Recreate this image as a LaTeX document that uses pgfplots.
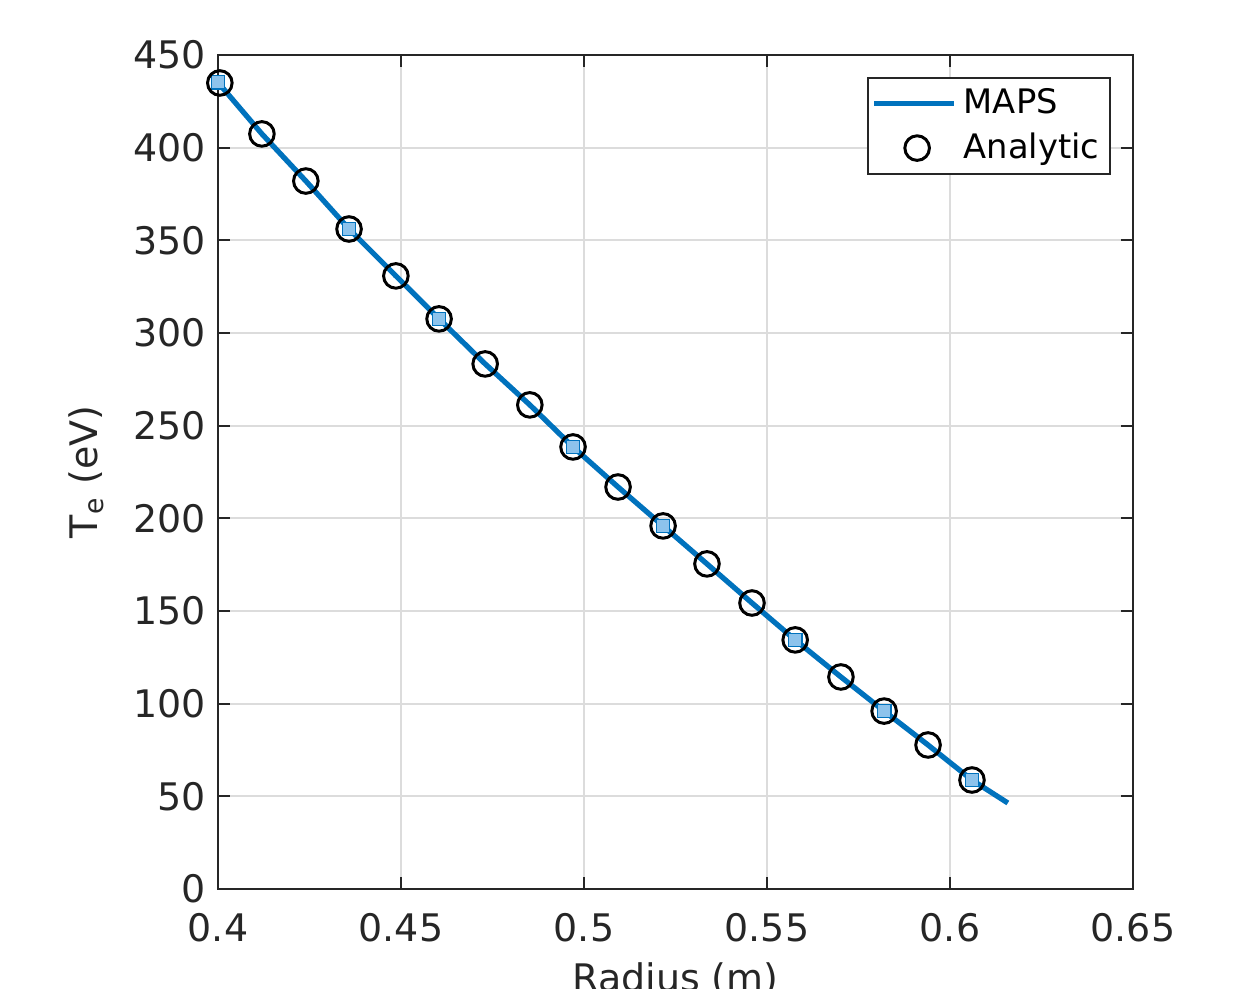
\documentclass[border=0pt]{standalone}
\usepackage{fontspec}
\setmainfont{DejaVu Sans}
\usepackage{pgfplots}
\pgfplotsset{compat=1.18}
\definecolor{mblue}{HTML}{0072BD}
\definecolor{sqfill}{HTML}{8DC3EC}
\definecolor{axgray}{HTML}{262626}
\definecolor{gridgray}{HTML}{DCDCDC}
\pgfplotsset{
  longline/.style={legend image code/.code={\draw[##1] (0cm,0cm) -- (0.8cm,0cm);}},
  midmark/.style={legend image code/.code={\draw[##1] plot coordinates {(0.43cm,0cm)};}},
}

\begin{document}
\begin{tikzpicture}
\begin{axis}[
  name=ax,
  scale only axis,
  width=9.15cm,height=8.34cm,
  xmin=0.4,xmax=0.65,ymin=0,ymax=450,
  xtick={0.4,0.45,0.5,0.55,0.6,0.65},
  ytick={0,50,...,450},
  xticklabels={0.4,0.45,0.5,0.55,0.6,0.65},
  /pgf/number format/assume math mode=true,
  grid=major,major grid style={gridgray,line width=0.5pt},
  tick align=inside,major tick length=0.12cm,
  axis line style={axgray,line width=0.6pt},
  tick style={axgray,line width=0.6pt},
  tick label style={font=\fontsize{10.8}{13}\selectfont,text=axgray},
  xticklabel style={yshift=-0.12cm},
  label style={font=\fontsize{10.8}{13}\selectfont,text=axgray},
  xlabel={Radius (m)},
  ylabel={T\textsubscript{e} (eV)},
  xlabel style={yshift=0.04cm},
  ylabel style={yshift=0.05cm},
  legend style={font=\fontsize{9.6}{11.5}\selectfont,at={(0.976,0.974)},anchor=north east,
    draw=axgray,line width=0.6pt,inner sep=1pt,row sep=0pt,
    nodes={inner xsep=2pt,inner ysep=2pt}},
  legend cell align=left,
]
\addplot[mblue,line width=1.5pt,longline] coordinates {
  (0.4000,435.2) (0.4120,407.4) (0.4240,382.0) (0.4358,356.1) (0.4486,330.8)
  (0.4604,307.6) (0.4730,283.3) (0.4852,261.2) (0.4970,238.5) (0.5093,216.9)
  (0.5216,195.9) (0.5336,175.4) (0.5459,154.3) (0.5577,134.4) (0.5702,114.4)
  (0.5820,96.0) (0.5940,77.7) (0.6060,58.8) (0.6158,46.4)
};
\addlegendentry{MAPS}
\addplot[forget plot,only marks,mark=square*,mark size=1.9pt,
  mark options={draw=mblue,fill=sqfill,line width=0.4pt}] coordinates {
  (0.4000,435.2) (0.4358,356.1) (0.4604,307.6) (0.4970,238.5)
  (0.5216,195.9) (0.5577,134.4) (0.5820,96.0) (0.6060,58.8)
};
\addplot[only marks,mark=o,mark size=3.5pt,midmark,
  mark options={draw=black,line width=0.85pt}] coordinates {
  (0.4005,434.9) (0.4120,407.4) (0.4240,382.0) (0.4358,356.1) (0.4486,330.8)
  (0.4604,307.6) (0.4730,283.3) (0.4852,261.2) (0.4970,238.5) (0.5093,216.9)
  (0.5216,195.9) (0.5336,175.4) (0.5459,154.3) (0.5577,134.4) (0.5702,114.4)
  (0.5820,96.0) (0.5940,77.7) (0.6060,58.8)
};
\addlegendentry{Analytic}
\end{axis}
\pgfresetboundingbox
\path ([xshift=-2.18cm,yshift=-1.00cm]ax.south west) rectangle ([xshift=1.01cm,yshift=0.55cm]ax.north east);
\end{tikzpicture}
\end{document}
